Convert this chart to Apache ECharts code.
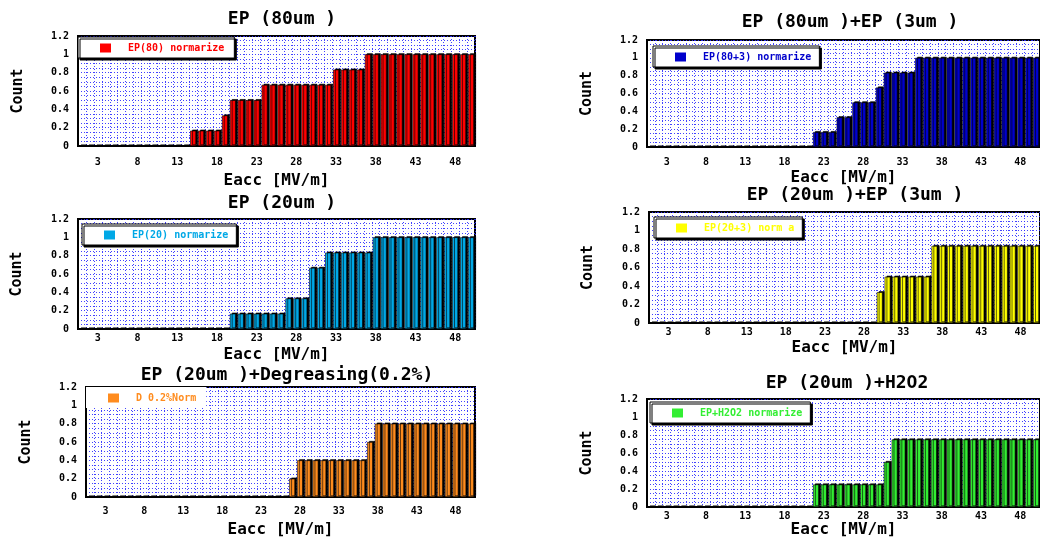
<!DOCTYPE html>
<html>
<head>
<meta charset="utf-8">
<script src="https://cdn.jsdelivr.net/npm/echarts@6/dist/echarts.min.js"></script>
<style>html,body{margin:0;padding:0;background:#fff}#c{width:1040px;height:539px}</style>
</head>
<body>
<div id="c"></div>
<script>
// Eacc bins [MV/m]
const categories = [1,2,3,4,5,6,7,8,9,10,11,12,13,14,15,16,17,18,19,20,21,22,23,24,25,26,27,28,29,30,31,32,33,34,35,36,37,38,39,40,41,42,43,44,45,46,47,48,49,50];
const yTicks = [0, 0.2, 0.4, 0.6, 0.8, 1, 1.2];

const titles = ["EP (80um )", "EP (80um )+EP (3um )", "EP (20um )", "EP (20um )+EP (3um )", "EP (20um )+Degreasing(0.2%)", "EP (20um )+H2O2"];
const seriesNames = ["EP(80) normarize", "EP(80+3) normarize", "EP(20) normarize", "EP(20+3) norm a", "D 0.2%Norm", "EP+H2O2 normarize"];

const ep80 = [0,0,0,0,0,0,0,0,0,0,0,0,0,0,0.167,0.167,0.167,0.167,0.333,0.5,0.5,0.5,0.5,0.667,0.667,0.667,0.667,0.667,0.667,0.667,0.667,0.667,0.833,0.833,0.833,0.833,1,1,1,1,1,1,1,1,1,1,1,1,1,1];
const ep80_3 = [0,0,0,0,0,0,0,0,0,0,0,0,0,0,0,0,0,0,0,0,0,0.167,0.167,0.167,0.333,0.333,0.5,0.5,0.5,0.667,0.833,0.833,0.833,0.833,1,1,1,1,1,1,1,1,1,1,1,1,1,1,1,1];
const ep20 = [0,0,0,0,0,0,0,0,0,0,0,0,0,0,0,0,0,0,0,0.167,0.167,0.167,0.167,0.167,0.167,0.167,0.333,0.333,0.333,0.667,0.667,0.833,0.833,0.833,0.833,0.833,0.833,1,1,1,1,1,1,1,1,1,1,1,1,1];
const ep20_3 = [0,0,0,0,0,0,0,0,0,0,0,0,0,0,0,0,0,0,0,0,0,0,0,0,0,0,0,0,0,0.333,0.5,0.5,0.5,0.5,0.5,0.5,0.833,0.833,0.833,0.833,0.833,0.833,0.833,0.833,0.833,0.833,0.833,0.833,0.833,0.833];
const degreasing = [0,0,0,0,0,0,0,0,0,0,0,0,0,0,0,0,0,0,0,0,0,0,0,0,0,0,0.2,0.4,0.4,0.4,0.4,0.4,0.4,0.4,0.4,0.4,0.6,0.8,0.8,0.8,0.8,0.8,0.8,0.8,0.8,0.8,0.8,0.8,0.8,0.8];
const h2o2 = [0,0,0,0,0,0,0,0,0,0,0,0,0,0,0,0,0,0,0,0,0,0.25,0.25,0.25,0.25,0.25,0.25,0.25,0.25,0.25,0.5,0.75,0.75,0.75,0.75,0.75,0.75,0.75,0.75,0.75,0.75,0.75,0.75,0.75,0.75,0.75,0.75,0.75,0.75,0.75];

const allData = [ep80, ep80_3, ep20, ep20_3, degreasing, h2o2];
const colors = ["#ff0000", "#0000cc", "#00a8e6", "#ffff00", "#ff8c1e", "#33ee33"];

// layout
const grids = [
  {left: 78, top: 36, width: 397, height: 110},
  {left: 647, top: 40, width: 395, height: 107},
  {left: 78, top: 219, width: 397, height: 110},
  {left: 649, top: 212, width: 393, height: 111},
  {left: 86, top: 387, width: 389, height: 111},
  {left: 647, top: 399, width: 395, height: 108}
];
const titlePos = [[282, 10], [850, 13], [282, 194], [855, 186], [287, 366], [847, 374]];
const xLabelMargin = [11, 10, 4, 4, 9, 4];
const xNameGap = [27, 23, 18, 17, 25, 15];
const yNameGap = [52, 52, 53, 53, 52, 52];
const legendPos = [
  {left: 78, top: 37, pr: 10, border: true},
  {left: 653, top: 46, pr: 8, border: true},
  {left: 82, top: 224, pr: 8, border: true},
  {left: 654, top: 217, pr: 8, border: true},
  {left: 86, top: 387, pr: 10, border: false},
  {left: 650, top: 402, pr: 8, border: true}
];

const FONT = "DejaVu Sans Mono";
const option = {
  animation: false,
  backgroundColor: "#fff",
  title: titles.map((t, i) => ({
    text: t, left: titlePos[i][0], top: titlePos[i][1], textAlign: "center", padding: 0,
    textStyle: {fontFamily: FONT, fontWeight: "bold", fontSize: 18, color: "#000"}
  })),
  legend: seriesNames.map((n, i) => ({
    data: [n], left: legendPos[i].left, top: legendPos[i].top, orient: "horizontal",
    padding: [6, legendPos[i].pr, 5, 22],
    backgroundColor: "#fff",
    borderColor: legendPos[i].border ? "#000" : "transparent",
    borderWidth: legendPos[i].border ? 1 : 0,
    shadowColor: legendPos[i].border ? "#000" : "transparent", shadowOffsetX: 2, shadowOffsetY: 2, shadowBlur: 0,
    icon: "rect", itemWidth: 11, itemHeight: 9, selectedMode: false,
    itemStyle: {borderWidth: 0, shadowBlur: 0, shadowOffsetX: 0, shadowOffsetY: 0, shadowColor: "transparent"},
    textStyle: {color: colors[i], fontFamily: FONT, fontWeight: "bold", fontSize: 10, padding: [0, 0, 0, 12]},
    z: 10
  })),
  grid: grids.map(g => Object.assign({show: true, backgroundColor: "#fff", borderColor: "#000", borderWidth: 2, containLabel: false}, g)),
  xAxis: grids.map((g, i) => ({
    type: "category", gridIndex: i, data: categories,
    name: "Eacc [MV/m]", nameLocation: "middle", nameGap: xNameGap[i],
    nameTextStyle: {fontFamily: FONT, fontWeight: "bold", fontSize: 16, color: "#000"},
    axisLine: {show: true, lineStyle: {color: "#000", width: 2}},
    axisTick: {show: false},
    axisLabel: {interval: (idx) => idx % 5 === 2, margin: xLabelMargin[i], fontFamily: FONT, fontWeight: "bold", fontSize: 10, color: "#000"},
    splitLine: {show: true, interval: 0, lineStyle: {color: "#2f2fff", type: [1, 2], width: 1, opacity: 0.9}}
  })),
  yAxis: grids.map((g, i) => ({
    type: "value", gridIndex: i, min: yTicks[0], max: yTicks[yTicks.length - 1], interval: 0.2,
    name: "Count", nameLocation: "middle", nameGap: yNameGap[i],
    nameTextStyle: {fontFamily: FONT, fontWeight: "bold", fontSize: 15, color: "#000"},
    axisLine: {show: true, lineStyle: {color: "#000", width: 2}},
    axisTick: {show: false},
    axisLabel: {margin: 9, fontFamily: FONT, fontWeight: "bold", fontSize: 10, color: "#000"},
    splitLine: {show: true, lineStyle: {color: "#2f2fff", type: [1, 2], width: 1, opacity: 0.9}},
    minorTick: {show: false, splitNumber: 4},
    minorSplitLine: {show: true, lineStyle: {color: "#2f2fff", type: [1, 2], width: 1, opacity: 0.9}}
  })),
  series: allData.map((d, i) => ({
    type: "bar", name: seriesNames[i], xAxisIndex: i, yAxisIndex: i, data: d,
    barCategoryGap: "26%",
    itemStyle: {color: colors[i], borderColor: "#000", borderWidth: 0.6, shadowColor: "#000", shadowOffsetX: 2, shadowOffsetY: -1, shadowBlur: 0},
    emphasis: {disabled: true}
  }))
};
echarts.init(document.getElementById("c"), null, {renderer: "canvas"}).setOption(option);
</script>
</body>
</html>
